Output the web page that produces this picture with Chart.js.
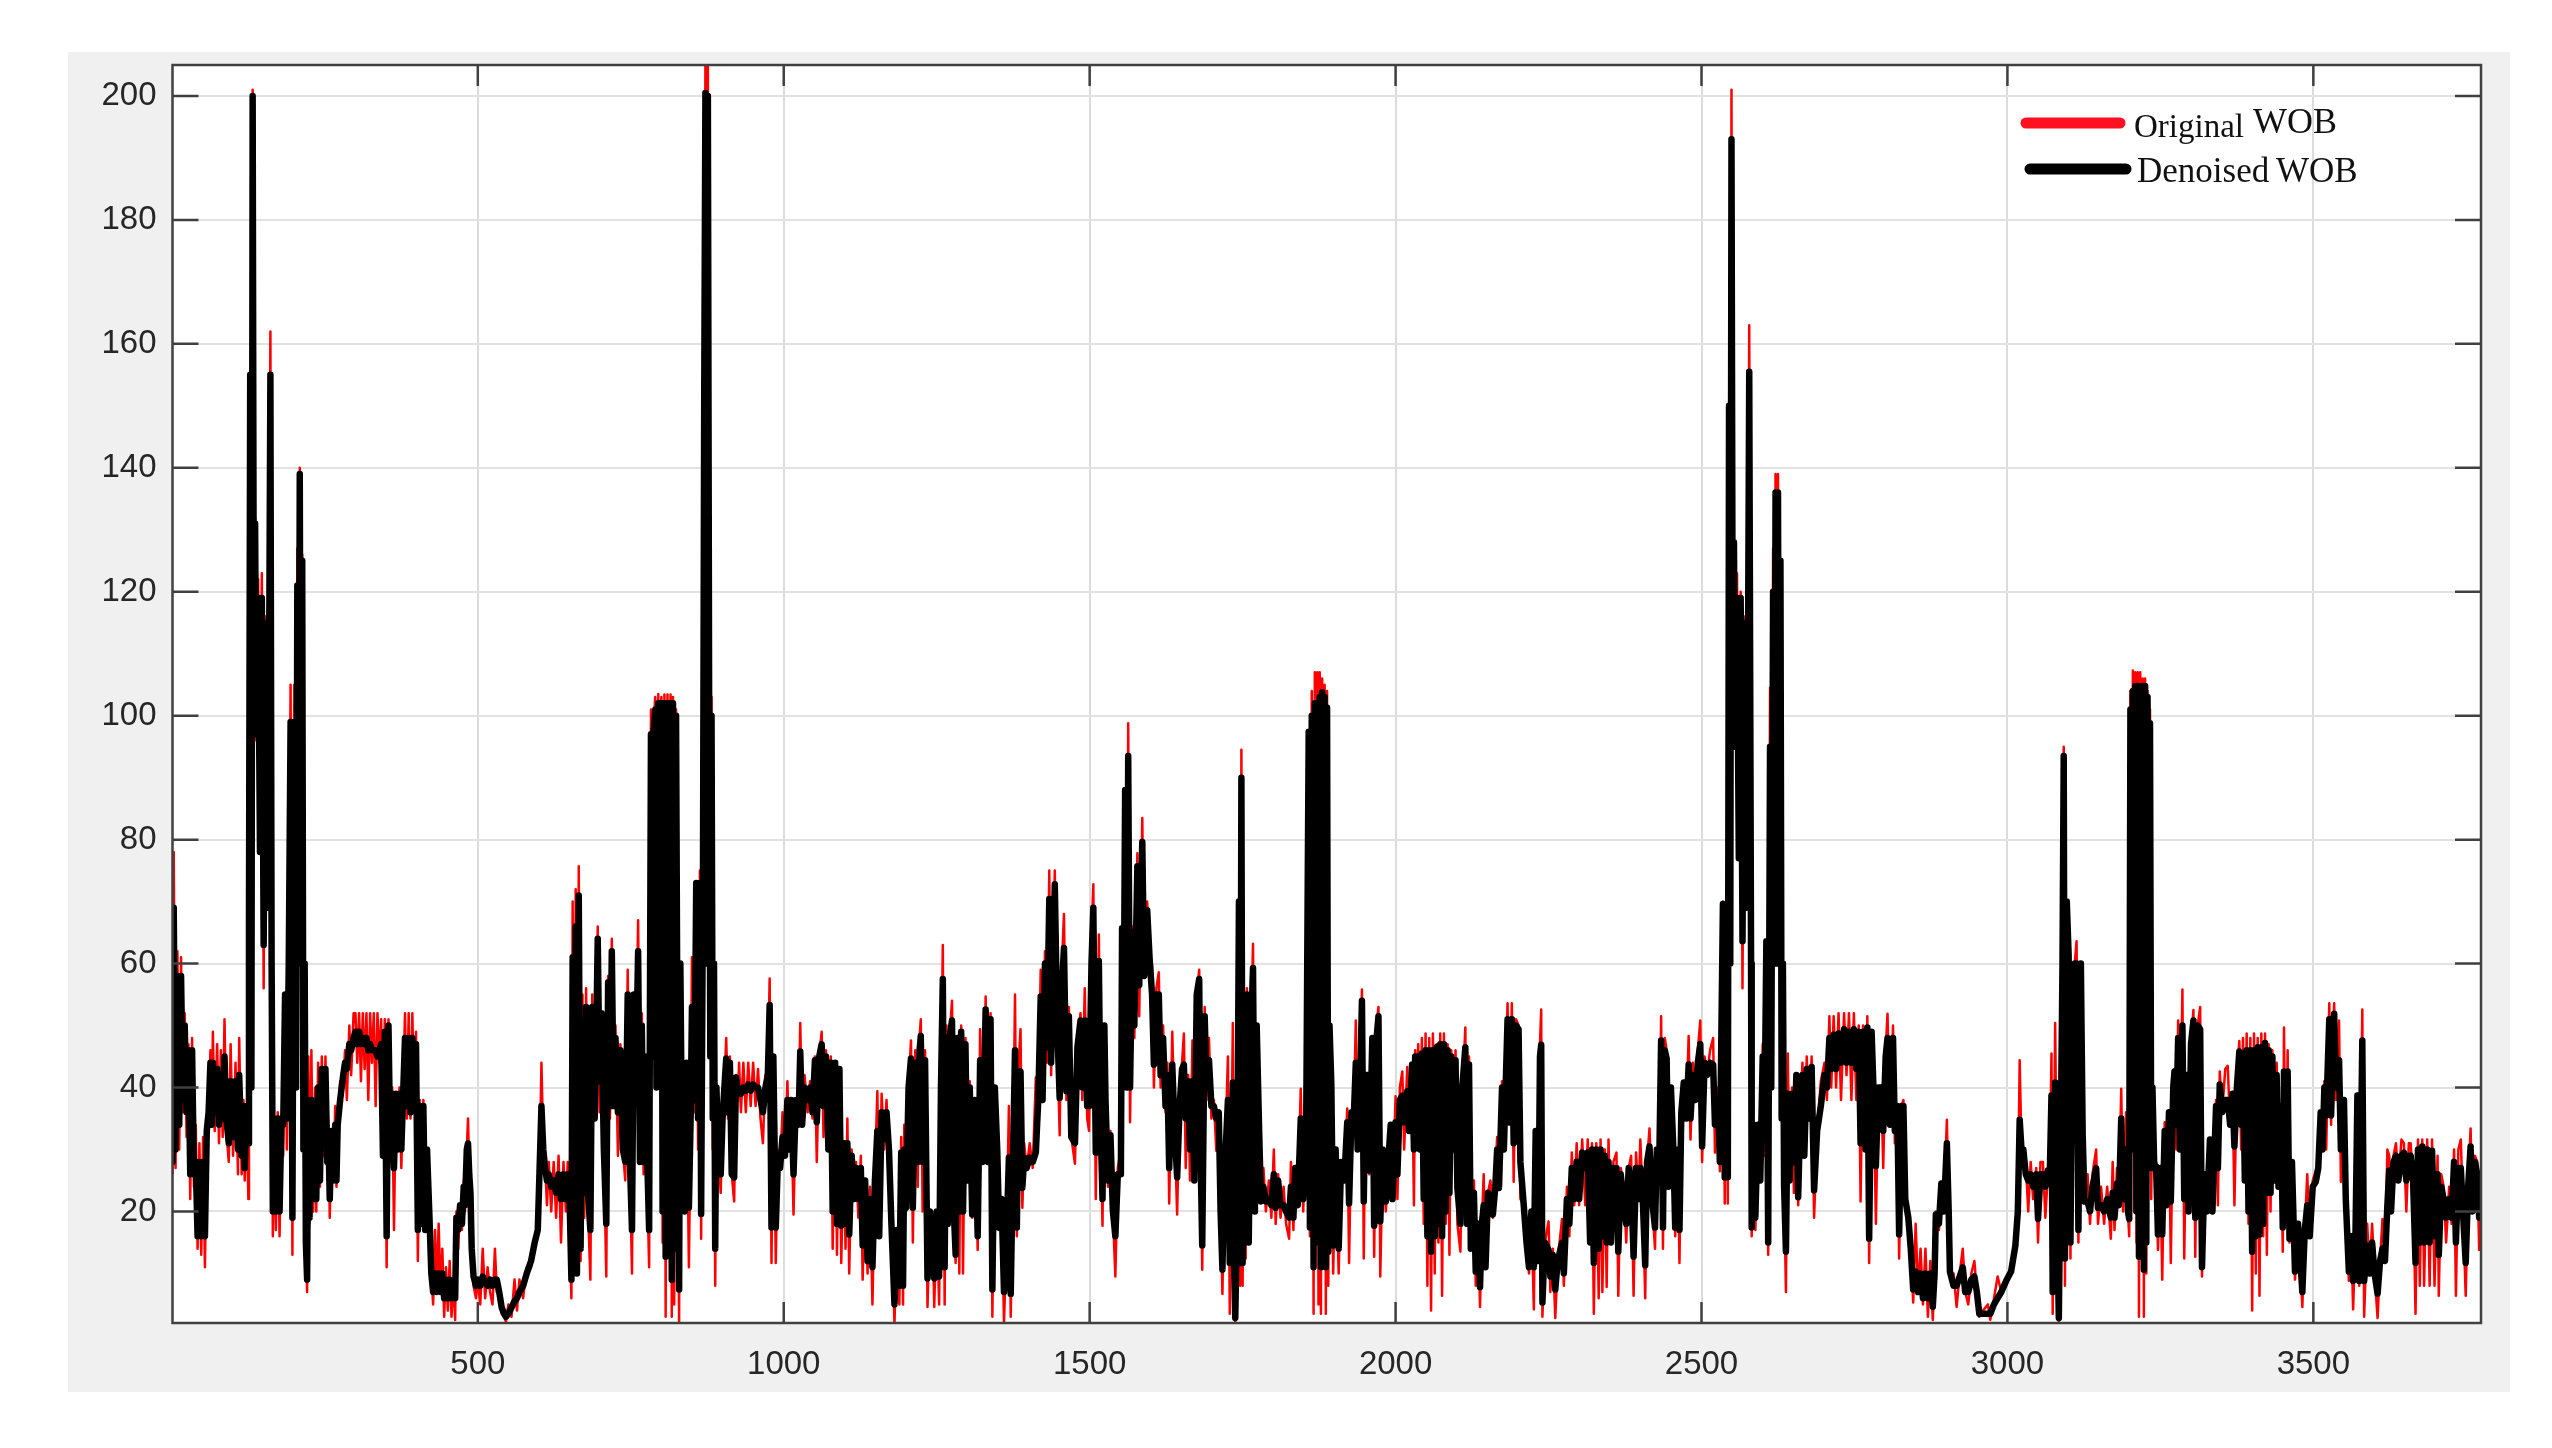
<!DOCTYPE html>
<html>
<head>
<meta charset="utf-8">
<title>WOB</title>
<script src="https://cdn.jsdelivr.net/npm/chart.js@4/dist/chart.umd.min.js"></script>
<style>
  html, body { margin: 0; background: #fff; }
  #panel { position: absolute; left: 68px; top: 52px; width: 2442px; height: 1340px; background: #f0f0f0; }
</style>
</head>
<body>
<div id="panel"><canvas id="wobChart" width="2442" height="1340"></canvas></div>
<script>
const seriesNames = ["Original WOB", "Denoised WOB"];
const xTicks = [500, 1000, 1500, 2000, 2500, 3000, 3500];
const yTicks = [20, 40, 60, 80, 100, 120, 140, 160, 180, 200];

// sample position, then both traces at that position
const sampleX = [
1,3,6,9,12,15,18,21,24,27,
30,33,36,39,42,45,48,51,54,57,
60,63,65,67,70,74,77,80,83,86,
89,93,96,100,104,108,110,114,117,119,
122,125,126,128,130,132,134,136,138,141,
144,147,150,153,156,159,161,163,165,167,
170,173,176,179,182,185,188,191,194,197,
200,203,205,207,209,211,213,215,217,219,
221,223,225,228,231,234,236,239,242,245,
248,251,254,256,258,261,264,267,269,271,
275,280,283,286,290,293,297,300,303,306,
309,312,315,318,321,324,327,330,333,336,
339,342,345,348,351,354,357,360,363,366,
369,372,375,378,381,384,387,390,393,396,
399,402,405,408,411,414,417,421,424,427,
430,433,436,439,442,445,448,451,454,457,
460,463,465,468,471,474,477,479,482,484,
486,488,490,493,497,500,504,508,512,516,
520,524,528,531,535,539,543,546,550,555,
560,564,568,574,580,587,593,598,601,604,
607,610,613,616,620,624,628,632,636,640,
644,647,650,653,655,657,660,662,665,668,
671,674,677,680,684,687,691,694,696,699,
702,706,710,713,716,719,722,725,729,733,
737,741,745,748,752,755,758,762,765,768,
771,774,777,780,783,785,787,790,792,795,
797,800,802,805,807,810,812,815,817,819,
821,824,827,829,831,833,835,838,841,845,
848,850,854,857,860,863,865,868,870,872,
874,876,878,880,882,884,886,888,890,893,
897,900,903,906,909,912,915,919,922,925,
927,930,934,938,942,946,950,954,958,962,
966,970,974,977,980,983,987,990,994,998,
1002,1006,1009,1012,1016,1020,1024,1027,1030,1034,
1039,1043,1047,1051,1054,1058,1062,1065,1069,1073,
1077,1080,1084,1087,1091,1094,1098,1101,1104,1107,
1111,1115,1118,1122,1126,1129,1133,1137,1141,1145,
1149,1153,1156,1160,1164,1168,1172,1176,1181,1185,
1189,1192,1195,1197,1200,1204,1208,1211,1215,1219,
1222,1224,1227,1231,1235,1239,1243,1246,1250,1254,
1257,1260,1263,1266,1268,1271,1275,1278,1281,1284,
1287,1290,1293,1297,1300,1304,1308,1312,1317,1321,
1325,1330,1334,1338,1341,1345,1349,1352,1356,1360,
1364,1368,1371,1375,1378,1381,1384,1387,1390,1393,
1397,1402,1407,1412,1416,1420,1423,1427,1430,1434,
1437,1443,1447,1451,1454,1458,1462,1466,1470,1476,
1480,1485,1488,1492,1496,1499,1503,1506,1510,1515,
1518,1521,1524,1526,1530,1534,1538,1542,1546,1551,
1553,1555,1558,1561,1563,1566,1570,1573,1578,1581,
1586,1589,1594,1598,1602,1605,1609,1613,1616,1620,
1624,1627,1630,1635,1639,1643,1647,1651,1654,1657,
1661,1664,1668,1671,1675,1679,1682,1684,1688,1691,
1695,1699,1703,1707,1711,1714,1717,1720,1726,1729,
1734,1736,1738,1741,1744,1746,1748,1750,1753,1755,
1757,1760,1764,1767,1770,1773,1777,1780,1784,1788,
1793,1797,1801,1804,1808,1812,1817,1821,1826,1829,
1833,1836,1840,1845,1849,1854,1858,1860,1863,1866,
1868,1870,1872,1874,1876,1878,1880,1882,1884,1886,
1888,1890,1892,1895,1898,1902,1907,1911,1916,1921,
1924,1928,1932,1935,1938,1942,1945,1948,1951,1954,
1957,1962,1965,1969,1972,1975,1979,1984,1988,1992,
1995,2000,2003,2007,2011,2014,2019,2022,2027,2030,
2032,2035,2037,2040,2043,2046,2049,2052,2055,2058,
2061,2064,2067,2070,2073,2076,2079,2082,2085,2088,
2091,2094,2098,2101,2106,2109,2114,2117,2120,2123,
2128,2131,2135,2138,2141,2144,2147,2151,2155,2159,
2163,2166,2169,2174,2177,2183,2186,2190,2193,2197,
2201,2204,2209,2214,2218,2222,2226,2229,2233,2236,
2238,2240,2244,2250,2253,2257,2261,2265,2272,2275,
2280,2284,2288,2292,2296,2300,2305,2310,2314,2318,
2321,2324,2328,2332,2335,2338,2342,2345,2348,2352,
2356,2361,2364,2368,2373,2377,2381,2385,2389,2393,
2397,2400,2404,2408,2411,2415,2419,2424,2427,2431,
2434,2437,2440,2443,2446,2450,2454,2457,2461,2464,
2467,2471,2475,2479,2482,2486,2490,2494,2498,2501,
2505,2509,2514,2519,2522,2527,2530,2535,2538,2541,
2543,2545,2547,2549,2551,2553,2555,2558,2561,2564,
2567,2570,2573,2576,2578,2581,2582,2585,2588,2592,
2596,2600,2603,2606,2609,2612,2614,2617,2619,2621,
2623,2625,2627,2629,2631,2633,2635,2638,2641,2644,
2648,2651,2655,2658,2662,2665,2668,2672,2676,2680,
2684,2689,2695,2701,2705,2709,2712,2716,2720,2724,
2728,2733,2737,2741,2745,2749,2753,2757,2760,2764,
2768,2771,2774,2778,2782,2785,2789,2794,2797,2801,
2804,2808,2813,2816,2820,2823,2827,2830,2833,2838,
2842,2846,2850,2854,2858,2862,2866,2870,2874,2878,
2881,2883,2888,2892,2896,2901,2904,2906,2912,2917,
2922,2927,2931,2936,2941,2946,2950,2954,2960,2968,
2972,2978,2984,2990,2998,3006,3013,3017,3020,3023,
3026,3030,3034,3038,3042,3047,3050,3054,3058,3062,
3066,3069,3072,3074,3078,3081,3084,3087,3090,3092,
3094,3097,3100,3103,3106,3110,3113,3116,3120,3123,
3126,3131,3135,3139,3145,3148,3153,3158,3163,3169,
3172,3175,3179,3182,3186,3189,3194,3197,3199,3201,
3203,3205,3207,3209,3211,3213,3215,3217,3219,3221,
3223,3225,3227,3229,3231,3233,3235,3237,3240,3243,
3246,3250,3253,3257,3260,3264,3267,3271,3273,3276,
3279,3282,3286,3289,3293,3296,3300,3304,3307,3311,
3315,3318,3322,3326,3331,3335,3341,3344,3347,3351,
3356,3360,3364,3368,3371,3375,3379,3382,3385,3388,
3391,3394,3397,3400,3403,3406,3409,3412,3415,3418,
3421,3424,3427,3430,3433,3436,3440,3443,3447,3450,
3452,3455,3458,3461,3465,3470,3475,3482,3486,3490,
3494,3499,3504,3508,3512,3515,3518,3521,3526,3529,
3534,3537,3542,3545,3550,3553,3558,3562,3565,3569,
3572,3575,3580,3583,3588,3592,3596,3600,3605,3609,
3613,3617,3621,3624,3627,3631,3635,3639,3644,3648,
3652,3656,3659,3663,3667,3671,3674,3678,3681,3686,
3690,3694,3698,3703,3705,3709,3713,3717,3722,3726,
3730,3733,3737,3741,3745,3749,3753,3757,3760,3764,
3768,3771,3774
];

const denoisedWOB = [
28,69,30,58,34,58,38,50,36,46,
26,46,26,28,16,28,16,28,16,33,
36,44,34,44,36,43,34,42,35,45,
35,31,41,32,41,30,42,29,37,27,
37,31,67,155,40,200,105,131,97,119,
78,119,63,115,69,110,155,60,20,34,
20,35,20,35,34,55,35,60,99,19,
99,40,121,60,139,60,125,30,60,15,
9,38,19,38,22,36,22,40,25,43,
32,43,28,33,22,33,25,34,25,34,
38,42,44,43,47,46,48,49,47,49,
47,48,47,48,46,47,46,46,46,45,
46,47,29,49,16,50,30,39,27,39,
30,39,30,39,48,37,48,36,48,38,
47,17,37,18,37,17,30,19,10,7,
10,7,10,7,10,6,9,6,9,6,
8,6,19,17,21,18,24,21,30,31,
26,23,14,9.5,8,9,8,9.5,8.5,8,
9,8,9,9,7,4.5,3.5,3,3.5,4.5,
5.5,6,7,8,10,12,15,17,27,37,
30,27,25,26,24,25,23,26,22,26,
22,26,22,9,61,15,66,10,71,14,
50,23,53,23,17,53,35,51,64,41,
52,30,18,57,37,62,37,48,36,46,
30,28,55,30,17,55,40,62,28,50,
28,45,28,17,97,45,97,101,40,102,
62,102,20,102,12.7,102,30,102,9,102,
14,100,30,7.4,60,38,38,20,44,20.6,
36,53,38,73,35,73,19.6,73,150,200.5,
60,200,104,45,100,35,60,14,40,30,
26,35,40,44.7,36,44,26,25.5,41.6,39.4,
39.5,39,40,39.5,40.5,39.5,40.5,40,40,38,
36,40,42,53.3,17.4,45,17.4,27,27,32,
29,38,30,38,26,38,34,45.8,34,40,
38,40,36,44.4,34.4,45,47,37,45,30,
44,20,44,18,43,17.7,31,18,31,16.3,
29,22,27,22,27,14.5,25,12,22,11,
25,33,16,36,31.6,36,30,18,5,17,
8,29.5,8,30,20.6,40,44.7,20.6,44,28,
46,48.3,28,44.4,9.2,20,16,9.2,20,9.5,
40,57.5,11,48,18,48,50.8,20,13,48,
20,49,20,47,25,40,19.5,38,16,44.4,
28,52.6,28,51,7.4,40,29.8,17.4,22,7,
15,28.7,6.7,30,46,17.4,42,42.6,23.8,28.7,
27,28.7,28,29.5,38,54.7,38,60,46.5,70.4,
44,72.8,50,38.3,55,62.5,39.4,51.5,32,31,
46.5,50.8,40,50.8,37,37,60,69,29.5,60.4,
34,22,50,37.6,25,32.3,20,16,26,26,
65.7,40,88,40,93.5,40,65,50,75.7,56.5,
79.6,58,68.6,60.8,55,43.7,55,55,42,48,
37,42,27,43.7,33,25.5,37,43,43.7,35,
41,30,41,25,55,57.5,25,14.5,51.5,40,
44.4,37,37,35,36,20,10.6,25,38,11.7,
40.8,12,2.8,20,70,11.7,90,11.7,55,15,
55,15,50,59.3,20,50,33,21.6,24,21.6,
22,21,26,20.6,25,21,21,20,19,24,
19,27,21,35,22,35,97.4,17.4,100,11,
102,40,102,15,103,11,103.8,20,103,11,
101.3,13.5,50,40.5,14.5,30,14,28,25,34.4,
21.3,36,36,44,30,40,54,21.6,42,42,
26.6,48,17.7,48,51.5,18.4,30,21.6,28,34,
22,34.4,26,38,38.7,34.4,39.4,33,43.7,30,
45,40,45,30,45.5,22,46,16,46,13.5,
46,16,46.5,18,47,16,47,20,46,23,
45,30,44.4,23.8,18,40,46.5,18,43.7,14,
23,10.3,18,7.8,18,21,11,23,22.3,19.5,
24,30,23.8,40,30,51,34.4,51,31,50,
49.4,28,21.6,15,11,20,11,33,12,45,
46.9,5.3,15,13.8,9.5,13,7.4,12,15,10,
22,18,27,22,28,22,29.5,27,29.5,15,
30,11.7,30,14,30,16,29,15,28,15,
27,27,13.5,26,21,18,27,25,12.7,27,
22,27,22,11.3,28,30.5,22,17.4,30,28,
47.6,17.4,46,44.7,24,40,30,17.4,30,17,
36,40.8,35,43.7,35,42,38,44,47,30.5,
44,42,44,43.7,34,38,28,69.6,25.5,69.6,
25.5,150,60,193,105,128,95,119,77,119,
63.6,115,69,110,155.5,60,17.4,34,19,34,
25,45,34.4,63.6,15,95,40,120,60,136,
60,136,60,125,35,60,24,13.5,39,25,
39,28,42,22.3,38,42,29,43,35,43.3,
23.4,33,37,42,40,48,43,48.5,43,48.7,
44,49.4,44,49,44,49.4,43,49,31,49,
30,49.7,15.6,49,37,27.3,40,40,33,45,
48,34,48,33,37,16.3,37,37,22,19,
14,7.4,10.3,7,10,6,10,6,10,4.6,
10,19.5,18,24.5,20,31,20,10.3,8,8,
9.5,11,7,7,9,9.5,7,3.5,3.5,3.5,
3.5,5,6,7,8.8,10.3,14.5,20,34.8,30,
30,26,25,26,24,26,18.8,26,26,24,
26.6,25,38.7,7,40.8,20,2.8,30,60,93.5,
12.4,70,61.5,15,50,60,60,17,60,32.3,
21.6,21.6,20,24,27,20.6,21,20,22,19,
23,19,24.5,21,35,22,30,20,18.8,101,
40,104,30,104.8,20,104.8,12.7,104,25,104.8,
10.6,104.8,15,103,40,98.8,27,40,27,27.3,
16.3,27,16.3,33,21,36,21.6,40,42.6,34,
48,30,50,22,42,20,47,50.8,19,50,
49.4,11,26,20,31.6,20,37,27,40.5,36,
38,38,34,39,30.5,40,45.8,34,45.5,25,
46,20,46,13.5,46,16,46.5,16.3,46.5,18,
47.2,23,46,23,45,25,42,24,37,17.4,
42.6,20,42.6,15.6,28,10.3,18,7,17,21,
16,24,24.8,27,36,30,40,35.5,51,35.5,
51.9,40,44.4,30,38,22,10.3,16,8.8,17,
38.7,8.8,47.6,8.8,14.5,10,15,10,6.7,12,
14,12,21,26.6,20,28,29,25,29,29.5,
25,29,29,25,11.7,30,15,30.5,15,30,
15,29.8,16,26,13,24,22,19,22,19,
28,15,27,27,19,11.7,24,30.5,20,28,
26,19,24
];

const originalWOB = [
26,78,27,62,30,61,36,52,32,47,
22,48,24,34,14,31,13,32,11,32,
35,46,34,49,33,47,31,46,32,51,
33,28,47,29,44,26,48,26,38,25,
37,22,68,156,60,201,105,132,96,122,
78,123,56,116,69,112,162,60,16,34,
17,36,16,34,29,54,30,60,105,13,
105,40,127,60,140,60,126,40,60,15,
7,45,18,46,20,40,20,44,24,45,
29,45,25,34,19,33,25,37,24,34,
41,40,46,38,50,42,52,52,44,52,
41,52,43,52,38,52,44,52,37,52,
44,51,29,51,11,51,28,40,17,39,
30,40,27,40,52,35,52,35,52,36,
49,12,38,18,38,17,30,19,10,5,
17,8,18,7,14,3,11,4,12,3,
9,2.5,20,14,21,17,25,20,30,35,
26,23,14,8,6,9,5,14,6,11,
7,5,14,7,8,3.5,3,2.2,5,3,
9,4,9,6,11,11,15,16,27,44,
30,28,21,28,20,28,19,29,15,28,
20,28,16,6,70,15,72,10,75.7,12,
55,19,56,21,9,55,35,52,66,36,
50,30,9.5,58,35,64,37,50,29,47,
30,25,59,30,10,55,40,67,28,52,
26,45,24,11,101,45,98,103,40,103.5,
60,103,15,103.4,3,103.4,30,103.4,3,103,
5,101,30,2,60,35,38,20,44,11,
36,61,36,72,30,75,15.6,73,150,205,
60,205,104,45,103,30,60,8,40,30,
23,36,40,48,35,45,26,21.6,42,38,
44,36,44,36,44,37,44,37,43,35,
31,42,42,57.6,11.7,45,11.7,30,27,36,
29,41,30,38,19.5,38,34,50.4,34,42,
36,41,35,45,28,45,49,32,46,30,
45,14,44,13,43,11.7,31,14,35,10,
30,22,28,19,29,9,25,10,24,5,
26,39.4,16,39,30,38,28,18,2,17,
5,32,5,34,20,40,47.6,15,46,24,
48,51,20,46,4.6,20,19,4.6,20,5,
40,63,5,50,18,48,54,20,11.7,48,
10,50,10,48,25,41,19,38,13.8,49.4,
28,54.7,28,52,3,40,34.4,17,22,2,
15,37,3,30,55,16,44,49.4,20.6,31,
27,31,27,41.6,38,59,38,62,44,75,
42,75,48,32.3,58,68,38,53,32,27.7,
47,52,38,56,35,33,64,72.8,22,64.7,
34,17.7,50,41.6,24,33,20,9.5,27,30,
66,40,88,40,98.8,34.4,66,48,77.8,51.5,
83.5,58,70,60,59.7,40,56,58.6,40,50,
36,44,21.3,49,33,19.5,39,44,48.7,27,
42,25,47.6,25,55,59,25,10.6,53,38,
48,35,38,29.8,36,20,6.7,25,45,3.5,
50.4,10,2,20,70,8,94.5,8,55,12.4,
56,15,50,63.2,20,50,37,21.6,27,20,
25,19,30,18,26,19,24,18,15.6,28,
17,27,21,39.8,20,37,97,16,104,3.5,
107,40,107,5,107,3.5,106,15,105,3.5,
104,8,50,41.6,10,30,10,28,25,36.6,
11.7,36,37,50.8,30,40,55.8,12.4,42,42,
26,48,12.7,50,53,9.5,30,20,28,34,
22,38.6,22,40,42.6,30,43.3,33,44,21,
46,40,47,30,48,18,48.7,8,48,4,
48.7,10,47,15,48.7,6.4,48.7,18,47,13,
46,30,46,18,13.5,38,49.7,18,45,14,
25,8,18,4.6,18,26,11,23,25,19,
26,32,24,41,30,53.6,34,53.6,24.8,51,
50,22,21,15,10,20,4.2,33,12,47,
52.6,3,15,18.4,7,14,2.8,12,18.8,8,
24,16,29.5,21,31,21,31.6,21,31.6,15,
31,3.5,31,6,31.6,7,30,7.8,31.6,15,
28,29.5,6.4,27,24,15,27,29,6.4,29.5,
22,31.6,22,6,28,33.4,22,14,30,28,
51.5,14,48,46,24,40,34.4,16,30,11.7,
36,41,35,48.3,31.6,44,38,46,50.8,28,
45,42,46,48,29.5,40,26.5,70,21.3,70,
21.3,150,60,201,105,128,95,123,77,120,
56,116,70,112,163,60,16,34,17,34,
25,47,29,60,13,104.5,40,127,60,139,
60,139,60,125,35,60,24,7,45.5,25,
40,23,42,21,38,44,29,45,35,45,
19,33,41,44,38,51.5,40,51.5,40,52,
38,52,42,52,38,52,38,50,21.6,50,
30,51.5,11.7,49,37,18,40,40,27,46,
51.9,34,50,31,37,12.4,37,38,22,19,
14,5.3,18,7,14,5,14,3,12,2.5,
10,20,17,23,20,34.8,20,10,10,4.6,
10,14,7,5,10,12,7,3,4,5,
2.5,6,9.5,7,9,10,15.5,20,44.4,30,
30,28,20,28,22,27,15,28,28,19,
26,25,45.5,3.5,50.4,20,2,30,60,95,
8,70,62,12.4,50,60,63.6,15,60,37.6,
21.6,26,18,26,30,18,24,18,24,15.6,
28,17,27,21,39.8,20,36,20,16,104,
40,107.3,20,107,15,107,3,107,20,106,
3,106,10,104,40,101,22,41,26,28,
13.8,27,9,34.4,21,36,11.7,40,43,30,
50.8,30,55.8,12.4,42,20,47,52.5,12.7,50,
53,9.5,26,20,31.6,20,38,21,42.6,36,
43,43.5,34,39,21,42,47.5,30,48,25,
48.7,18,48,4,48.7,10,48,6.4,48.7,16,
48.7,13,47,20,46,25,44,24,37,13.5,
49.7,20,46,15,28,9,18,4.6,17,26,
16,25,26.6,26,36,30,41,30,53.6,34,
53.6,38,50.8,24.8,38,22,8.8,16,4.2,17,
39,8,52.6,3,18,10,18,10,2.8,12,
18.8,12,30,29,20,29,31,25,31.6,31,
20,31,31,25,3.5,31.6,8,31.6,8,31.6,
8,31.6,8,29,6.4,26,24,15,24,18,
30,6.4,30,31.6,19,6.4,24,33.4,20,29,
28,13.8,26
];

if (sampleX.length !== denoisedWOB.length || sampleX.length !== originalWOB.length) {
    throw new Error("length mismatch " + sampleX.length + " " + denoisedWOB.length + " " + originalWOB.length);
}

const AXIS_COLOR = "#404040";

// white plot box behind the lines
const plotBackground = {
    id: "plotBackground",
    beforeDraw(chart) {
        const { ctx, chartArea: a } = chart;
        ctx.save();
        ctx.fillStyle = "#fff";
        ctx.fillRect(a.left, a.top, a.right - a.left, a.bottom - a.top);
        ctx.restore();
    }
};

// MATLAB style box with inward ticks on all four sides
const boxAndTicks = {
    id: "boxAndTicks",
    afterDraw(chart) {
        const { ctx, chartArea: a, scales } = chart;
        ctx.save();
        ctx.strokeStyle = AXIS_COLOR;
        ctx.lineWidth = 2.5;
        ctx.strokeRect(a.left, a.top, a.right - a.left, a.bottom - a.top);
        ctx.beginPath();
        xTicks.forEach(v => {
            const x = scales.x.getPixelForValue(v);
            ctx.moveTo(x, a.bottom); ctx.lineTo(x, a.bottom - 21);
            ctx.moveTo(x, a.top); ctx.lineTo(x, a.top + 21);
        });
        yTicks.forEach(v => {
            const y = scales.y.getPixelForValue(v);
            ctx.moveTo(a.left, y); ctx.lineTo(a.left + 26, y);
            ctx.moveTo(a.right, y); ctx.lineTo(a.right - 26, y);
        });
        ctx.stroke();
        ctx.restore();
    }
};

// hand placed legend, the words sit unevenly in the original
const wobLegend = {
    id: "wobLegend",
    afterDraw(chart) {
        const ctx = chart.ctx;
        const [orig, orig2] = seriesNames[0].split(" ");
        const [den, den2] = seriesNames[1].split(" ");
        ctx.save();
        ctx.lineCap = "round";
        ctx.lineWidth = 11;
        ctx.strokeStyle = "#ff1020";
        ctx.beginPath(); ctx.moveTo(1958, 71); ctx.lineTo(2052, 71); ctx.stroke();
        ctx.strokeStyle = "#000";
        ctx.beginPath(); ctx.moveTo(1962, 117); ctx.lineTo(2058, 117); ctx.stroke();
        ctx.fillStyle = "#111";
        ctx.textBaseline = "alphabetic";
        ctx.font = '33px "Liberation Serif"';
        ctx.fillText(orig, 2066, 85);
        ctx.font = '36px "Liberation Serif"';
        ctx.fillText(orig2, 2185, 81);
        ctx.font = '35px "Liberation Serif"';
        ctx.fillText(den, 2069, 130);
        ctx.fillText(den2, 2208, 130);
        ctx.restore();
    }
};

const tickFont = { family: '"Liberation Sans"', size: 33 };
const plainNumber = v => String(v);

new Chart(document.getElementById("wobChart").getContext("2d"), {
    type: "line",
    data: {
        datasets: [
            {
                label: seriesNames[1],
                data: sampleX.map((x, i) => ({ x, y: denoisedWOB[i] })),
                borderColor: "#000",
                borderWidth: 6.5,
                borderJoinStyle: "round",
                borderCapStyle: "round",
                pointRadius: 0,
                tension: 0
            },
            {
                label: seriesNames[0],
                data: sampleX.map((x, i) => ({ x, y: originalWOB[i] })),
                borderColor: "#ff0000",
                borderWidth: 2.5,
                borderJoinStyle: "round",
                pointRadius: 0,
                tension: 0
            }
        ]
    },
    options: {
        responsive: false,
        devicePixelRatio: 1,
        animation: false,
        layout: { padding: { top: 13, right: 29, left: 0, bottom: 0 } },
        plugins: { legend: { display: false }, tooltip: { enabled: false } },
        scales: {
            x: {
                type: "linear",
                min: 1,
                max: 3774,
                afterBuildTicks: s => { s.ticks = xTicks.map(value => ({ value })); },
                afterFit: s => { s.height = 69; s.paddingLeft = 0; s.paddingRight = 0; },
                grid: { color: "#dcdcdc", lineWidth: 2, drawTicks: false },
                border: { display: false },
                ticks: { font: tickFont, color: "#262626", padding: 22, maxRotation: 0, autoSkip: false, callback: plainNumber }
            },
            y: {
                min: 2,
                max: 205,
                afterBuildTicks: s => { s.ticks = yTicks.map(value => ({ value })); },
                afterFit: s => { s.width = 104.5; s.paddingTop = 0; s.paddingBottom = 0; },
                grid: { color: "#e2e2e2", lineWidth: 2, drawTicks: false },
                border: { display: false },
                ticks: { font: tickFont, color: "#262626", padding: 16, autoSkip: false, callback: plainNumber }
            }
        }
    },
    plugins: [plotBackground, boxAndTicks, wobLegend]
});
</script>
</body>
</html>
